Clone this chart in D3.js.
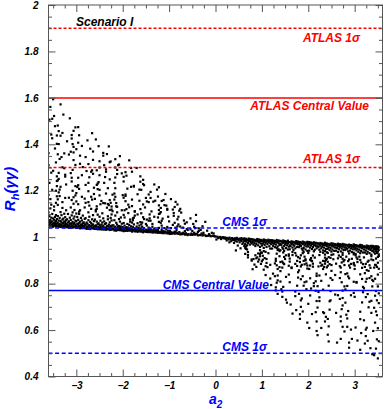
<!DOCTYPE html>
<html><head><meta charset="utf-8">
<script src="https://cdn.jsdelivr.net/npm/d3@7"></script>
<style>html,body{margin:0;padding:0;background:#fff;}svg{display:block;}</style>
</head><body>
<svg id="chart" width="384" height="409"></svg>
<script>
// ---------- data ----------
const xTicks = [-3, -2, -1, 0, 1, 2, 3];
const yTicks = [0.4, 0.6, 0.8, 1, 1.2, 1.4, 1.6, 1.8, 2];
const refNames = ["ATLAS 1\u03C3", "ATLAS Central Value", "ATLAS 1\u03C3", "CMS 1\u03C3", "CMS Central Value", "CMS 1\u03C3"];
const refValues = [1.9, 1.6, 1.3, 1.04, 0.77, 0.5];
const refExperiment = ["ATLAS", "ATLAS", "ATLAS", "CMS", "CMS", "CMS"];
const refKind = ["sigma", "central", "sigma", "sigma", "central", "sigma"];
const scenarioLabel = "Scenario I";
// scatter points, read column by column (columns of width 0.2 in a2 starting at -3.6).
// token = one digit (a2 sub-step of 0.02 inside the column) followed by R_h(γγ) in thousandths
const scatterColumns = [
"01046 51045 21047 81046 41048 91049 61050 31051 71052 11053 01055 41054 81057 51058 21060 91059 61062 31064 71063 11066 41068 81070 01072 61075 21074 91078 51081 31084 71087 11090 81095 41100 01107 61116 21124 61132 31140 81148 21164 91176 01182 81200 41204 91220 11234 91242 91262 31278 51286 01310 81322 01362 71382 91402 41426 91438 31442 71478 11506 41510 61522 21561 51594",
"31044 71043 11045 51044 91046 21047 61048 01049 81050 41052 31053 71055 11054 91057 51059 21058 61061 01063 81065 41064 71068 31070 91073 11072 51076 61080 21083 81086 01091 41095 71101 31108 91116 51126 01139 51151 01163 81169 21177 11193 21205 31217 91227 01245 11251 81261 81269 11277 71297 51301 21337 41345 01357 71361 11401 31437 51449 11457 01481 61528 31572",
"61041 21040 91042 41041 01043 71044 31045 81046 51047 11049 61050 21051 91053 41055 01054 71057 31059 81061 51060 11063 61066 21068 91071 41074 01077 71080 31084 81089 51094 11100 61107 81117 41128 71144 51160 21170 71172 91180 61200 91220 51240 51256 41276 61290 91311 71332 21356 71365 41368 71389 61401 01413 51425 51440 71458 91473 31512",
"81039 41038 01040 61039 21041 91042 51043 11044 71046 31047 81048 41050 01049 61052 21054 91056 51055 11058 71060 31062 81064 41067 01069 61072 21075 91079 51083 11087 71093 31100 01102 31110 41116 91128 21142 01154 91166 61174 01190 31208 11216 21224 21256 61267 71302 41316 41351 01379 61393 21407 31439 21474",
"11036 51035 91037 31036 71038 01039 41040 81041 21043 61044 11045 51047 91046 31049 71051 01053 41052 81055 21058 61060 11063 51066 91069 31073 71077 01082 41088 81095 31107 61122 41136 01148 31151 71162 61174 91186 31198 91213 01225 31234 41258 81273 61282 11285 71288 31315 81333 01345 81369 51381 21417 71448",
"41034 81033 21035 61034 01036 91037 51038 11039 71040 31042 41043 81044 21046 61045 01048 91050 51052 11051 71054 31057 41060 81063 21067 61071 01076 91081 51088 31097 81103 11111 11117 21122 21133 61142 91147 71156 01165 51180 51204 31207 21225 31231 41237 51267 21288 51300 51327 91351 91363 41392 11421",
"21032 61031 01033 81032 41034 71035 31036 91037 51038 11040 21041 61043 01042 81045 41047 71049 31048 91051 51054 11057 21060 61064 01068 81072 41077 71083 41090 81098 91112 61117 81119 31127 81132 51138 41143 11146 71148 61160 91183 21188 41211 01234 61249 11259 21282 21292 01310 61323 71326 31358 51391",
"91029 31028 71030 11029 51031 81032 21033 61034 01035 41037 91038 31040 71039 11042 51044 81046 21045 61048 01051 41054 91058 31062 71067 11073 61078 81085 21093 41107 91116 41131 31133 31147 11162 21174 11188 21211 11234 21257 41272 91275 41290 21300 51310 61313 21336 71349",
"51027 11026 81028 31027 61029 01030 41031 91032 21033 71035 51036 11038 81037 31040 61042 01044 41043 91047 21050 71053 51057 11061 81067 81076 21085 11096 61104 21116 41121 71129 61140 31155 11170 31178 01181 31184 51209 91217 11240 11260 41265 31280 91298 71331",
"01024 61023 31025 91024 41026 71027 11028 51029 81030 21032 61033 01034 41036 91038 31037 71040 11043 51046 81050 21055 61060 01063 91065 11073 11081 21084 31093 61098 31110 31112 91121 01134 81157 01162 61185 81205 21218 21221 91239 91262 01282 51298",
"71022 21021 51023 91022 11024 41025 81026 31027 61028 01030 71031 21033 51032 91035 31038 81041 11045 61050 01055 51057 11063 81071 61076 31078 91081 21086 91098 01103 41128 21141 81151 61154 51169 81184 01204 31224 21229 21247",
"31020 81019 11021 61020 41022 91023 21024 71025 51026 01028 31029 81031 61030 11033 41036 91040 21045 21057 91066 01071 81085 41088 91100 11111 91117 91137 31153 51157 01169 81175 01195 71205 91215 41227",
"41017 91016 21018 71017 01019 51020 81021 31022 61024 11023 41026 91028 21031 71034 51039 81044 21050 11062 21071 31080 91088 01102 11108 81118 81122 11126 71136 51138 21156 41160 61186",
"61015 11014 81016 31015 51017 01018 91019 41020 71022 21021 61024 11027 81031 21039 71041 91047 41053 61062 01068 91077 51092 51104 41119 61130 91141 71152 21164",
"21012 71011 41013 91012 01014 61015 31016 81017 51019 11022 71026 91035 51041 21046 01055 71058 91064 61072 01088 31106 11114 21122",
"51010 01009 81011 31010 61012 11013 91014 41016 71019 51027 01031 31034 81039 71045 61057 91069 31081 91096",
"11008 61007 31009 91008 41010 71011 01013 51016 71019 11022 21027 41031 21038 61047 91066",
"01005 51004 21006 81005 41007 71006 91004 31013 81016 61019 11028",
"01003 51001 21002 81000 4999 7998 3996 9995 6992 1990",
"0999 5998 2997 8996 3995 7994 1993 6991 4990 9988 2986 7983 5978",
"3997 8996 1995 6994 0993 4992 9991 2990 7988 5987 1985 8983 3981 6978 0975 9971 4964 7952 2943",
"1995 6994 3993 8992 0991 5990 9989 2988 7987 4986 1984 6983 3981 8979 0977 5975 9973 2970 7968 4965 1962 3960 2953 3950 4947 5936 2928 5923 5913 9904 9899",
"5992 0991 7990 2989 9988 4987 1986 6985 3984 8982 5981 0979 7977 2975 9973 4971 1968 6965 3962 8958 8944 9934 6930 8928 3922 8918 5913 4909 1906 7904 6895 9885 2882 4872 0862",
"2990 7989 4988 9987 1986 6985 3984 0983 8982 5981 2979 7978 4976 9974 1972 6970 3967 0964 8961 5958 2954 9951 2940 4937 0933 7931 1920 3910 5906 1903 0896 5889 9881 4875 6871 2860 4837 9822",
"6988 1987 8986 3985 0984 5983 9982 2981 7980 4978 6977 1975 8974 3972 0970 5968 9966 2963 7960 4957 6954 1951 8948 7945 9940 6929 9918 5907 5898 4887 6879 9871 7863 2843 7835 4832 7814 6804 0794 5784 5771 7756",
"3986 8985 0984 5983 1982 7981 4980 9979 2978 6976 3975 8973 0971 5969 1967 7965 4962 9959 2956 6953 3950 8947 0944 4941 3934 9926 6922 9920 4915 5906 2895 0893 3888 4884 9877 2869 0854 9839 6829 0809 3786 1776 2766 2743 6731 7718",
"7983 2982 9981 4980 0979 5978 1977 8976 3975 6974 7972 2971 9969 4967 0965 5963 1961 8958 3955 6952 0948 4945 3936 6932 3923 7921 9914 0908 8898 0895 6885 8876 2870 2867 9849 9826 0806 8791 6766 6746 1710 7686 3671",
"4981 9980 1979 6978 2977 8976 0975 5974 3973 7971 4970 9968 1966 6964 2962 8960 0957 5954 3951 7947 4944 9941 5936 4931 2922 6916 1909 7905 7900 5898 1893 8887 6883 3881 9878 2874 9865 0857 4832 2819 8809 6806 5791 8776 0756 3736 2728 2700 4680 1668 1648 9632",
"1979 6978 3977 8976 0975 5974 2973 9972 4971 7969 1968 6966 3964 8962 0960 5958 2955 9952 4949 7946 1942 6939 0932 5921 7912 3910 2903 3900 4897 5886 2878 5873 1863 9843 9833 2823 8810 6802 6789 3779 8769 2749 9725 0713 8677 4669 9637 1609 9596",
"8976 3975 0974 5973 1972 7971 4970 9969 2968 6966 8965 3963 0961 5959 1957 7955 4952 9949 2946 6943 8940 3937 6933 8925 2923 8912 9902 6898 8896 3890 8886 5881 4877 1874 7872 6863 9840 2835 4812 0789 6774 1764 2741 2725 0697 6677 7673 9657 8637 4609 0578",
"5974 0973 7972 2971 9970 4969 1968 6967 3966 8964 5963 0961 7959 2957 9955 4953 1950 6947 3944 8941 5938 0935 1932 7926 5924 2914 4911 0907 7905 1894 3884 5880 1877 0870 5855 9837 4824 6816 2791 4768 9753 4728 3724 3688 1648 2616 1580 2551",
"2972 7971 4970 9969 1968 6967 3966 8965 0964 5962 2961 7959 4957 9955 1953 6951 3948 8945 0942 5939 2936 7933 7924 3921 5915 2909 7907 9902 8896 6891 0886 9880 4875 5869 5849 4824 6806 9788 7770 2750 7738 4734 7706 6690 0674 5658 5638 7614 9594 5562 1546",
"9969 4968 1967 6966 2965 8964 0963 5962 3961 7959 9958 4956 1954 6952 2950 8948 0945 5942 3939 7936 9933 4930 9926 1916 7907 4904 3897 9889 6885 9883 4878 5869 2844 0841 3831 4823 9808 2790 0775 9760 6750 0718 3682 1666 2650 2614 6602 7562 4546 4524",
"6967 1966 8965 3964 0963 5962 2961 7960 4959 9957 6956 1954 8952 3950 0948 5946 2943 7940 4937 9934 6931 1928 1922 5916 2913 3906 6902 3893 7891 9884 0878 8868 0863 6840 8820 2807 2804 9786 9763 0743 8719 6679 6647 1611 7587 3555 6515",
"3964 8963 5962 0961 7960 2959 9958 4957 1956 6954 3953 8951 5949 0947 7945 2943 9940 4937 1934 6931 3928 8925 8918 0913 8904 5899 4894 2885 6879 1872 7868 3858 5855 1845 8832 6824 3821 9816 2808 9788 0780 4755 2742 8726 6722 5698 8674 0642 3610 2602 2574 4554 1542 7522 9496",
"0962 3961 5960 1959 4958 2957 6956 0955 3954 5952 1951 4949 2947 6945 0943 3941 5938 1935 4932 2929 6926 6919 5915 3908 0901 5890 2881 3879 4872 1869 6864 5839 2821 0811 5788 3768 6758 2748 4728 6716 1696 3680 4664 2632 5608 0596 4560 6552 3520 1492 5478"
];
const columnStart = -3.6, columnWidth = 0.2, subStep = 0.02;

// ---------- layout / style ----------
const W = 384, H = 409;
const M = {left: 48.5, right: 382.5, top: 5, bottom: 376.5};
const FONT = "'Liberation Sans', Arial, Helvetica, sans-serif";
const colors = {ATLAS: "#ff0000", CMS: "#0000ff"};
const dashes = {ATLAS: "3,2", CMS: "4,2.6"};
const labelEndX = [360, 369, 360, 267, 269, 267];
const labelDy = [14, 12, -5, -2, -2, -2];
const DOT = 2.2;

const svg = d3.select("#chart");
const x = d3.scaleLinear().domain([-3.6, 3.6]).range([M.left, M.right]);
const y = d3.scaleLinear().domain([0.4, 2]).range([M.bottom, M.top]);

// decode points
const points = [];
scatterColumns.forEach((s, i) => {
  s.trim().split(/\s+/).forEach(tok => {
    const d = +tok[0];
    const r = +tok.slice(1) / 1000;
    points.push({a2: columnStart + columnWidth * i + subStep * d, r});
  });
});

svg.append("defs").append("clipPath").attr("id", "plotclip")
  .append("rect").attr("x", M.left).attr("y", M.top)
  .attr("width", M.right - M.left).attr("height", M.bottom - M.top);

const plot = svg.append("g").attr("clip-path", "url(#plotclip)");
plot.append("g").selectAll("rect").data(points).join("rect")
  .attr("x", d => x(d.a2) - DOT / 2).attr("y", d => y(d.r) - DOT / 2)
  .attr("width", DOT).attr("height", DOT).attr("fill", "#000");

// reference lines
refValues.forEach((v, i) => {
  const exp = refExperiment[i];
  plot.append("line")
    .attr("x1", x(-3.6)).attr("x2", x(3.6))
    .attr("y1", y(v)).attr("y2", y(v))
    .attr("stroke", colors[exp]).attr("stroke-width", 1.5)
    .attr("stroke-dasharray", refKind[i] === "sigma" ? dashes[exp] : null);
  svg.append("text")
    .attr("x", labelEndX[i]).attr("y", y(v) + labelDy[i])
    .attr("text-anchor", "end")
    .attr("font-family", FONT).attr("font-size", 12)
    .attr("font-weight", "bold").attr("font-style", "italic")
    .attr("fill", colors[exp]).text(refNames[i]);
});

// axes
const axisColor = "#555";
function styleAxis(g, labels) {
  g.select(".domain").remove();
  g.selectAll(".tick line").attr("stroke", axisColor);
  g.selectAll(".tick text")
    .attr("font-family", FONT).attr("font-size", 10)
    .attr("font-weight", "bold").attr("font-style", "italic")
    .attr("fill", "#000");
  if (!labels) g.selectAll(".tick text").remove();
}
const xMinor = d3.range(-3.5, 3.51, 0.25).filter(v => Math.abs(v - Math.round(v)) > 1e-6);
const yMinor = d3.range(0.45, 2.0, 0.05).filter(v => Math.abs(v * 5 - Math.round(v * 5)) > 1e-6);
const fmtY = d => (d === 1 || d === 2) ? String(d) : d3.format(".1f")(d);

svg.append("g").attr("transform", `translate(0,${M.bottom})`)
  .call(d3.axisBottom(x).tickValues(xTicks).tickSize(-7).tickSizeOuter(0).tickPadding(5).tickFormat(d3.format("d")))
  .call(g => styleAxis(g, true));
svg.append("g").attr("transform", `translate(0,${M.bottom})`)
  .call(d3.axisBottom(x).tickValues(xMinor).tickSize(-3.5).tickSizeOuter(0).tickFormat(""))
  .call(g => styleAxis(g, false));
svg.append("g").attr("transform", `translate(0,${M.top})`)
  .call(d3.axisTop(x).tickValues(xTicks).tickSize(-7).tickSizeOuter(0).tickFormat(""))
  .call(g => styleAxis(g, false));
svg.append("g").attr("transform", `translate(0,${M.top})`)
  .call(d3.axisTop(x).tickValues(xMinor).tickSize(-3.5).tickSizeOuter(0).tickFormat(""))
  .call(g => styleAxis(g, false));
svg.append("g").attr("transform", `translate(${M.left},0)`)
  .call(d3.axisLeft(y).tickValues(yTicks).tickSize(-7).tickSizeOuter(0).tickPadding(10).tickFormat(fmtY))
  .call(g => styleAxis(g, true));
svg.append("g").attr("transform", `translate(${M.left},0)`)
  .call(d3.axisLeft(y).tickValues(yMinor).tickSize(-3.5).tickSizeOuter(0).tickFormat(""))
  .call(g => styleAxis(g, false));
svg.append("g").attr("transform", `translate(${M.right},0)`)
  .call(d3.axisRight(y).tickValues(yTicks).tickSize(-7).tickSizeOuter(0).tickFormat(""))
  .call(g => styleAxis(g, false));
svg.append("g").attr("transform", `translate(${M.right},0)`)
  .call(d3.axisRight(y).tickValues(yMinor).tickSize(-3.5).tickSizeOuter(0).tickFormat(""))
  .call(g => styleAxis(g, false));

// frame
svg.append("rect").attr("x", M.left).attr("y", M.top)
  .attr("width", M.right - M.left).attr("height", M.bottom - M.top)
  .attr("fill", "none").attr("stroke", axisColor).attr("stroke-width", 1);

// titles
svg.append("text").attr("x", 76).attr("y", 26)
  .attr("font-family", FONT).attr("font-size", 12)
  .attr("font-weight", "bold").attr("font-style", "italic")
  .attr("fill", "#000").text(scenarioLabel);

const yt = svg.append("text")
  .attr("transform", "translate(15,189) rotate(-90)")
  .attr("text-anchor", "middle")
  .attr("font-family", FONT).attr("font-size", 15)
  .attr("font-weight", "bold").attr("font-style", "italic")
  .attr("fill", "#0000ff");
yt.append("tspan").text("R");
yt.append("tspan").attr("font-size", 11).attr("dy", 4).text("h");
yt.append("tspan").attr("dy", -4).text("(\u03B3\u03B3)");

const xt = svg.append("text").attr("x", 209).attr("y", 404)
  .attr("font-family", FONT).attr("font-size", 14)
  .attr("font-weight", "bold").attr("font-style", "italic")
  .attr("fill", "#0000ff");
xt.append("tspan").text("a");
xt.append("tspan").attr("font-size", 10).attr("dy", 4).text("2");
</script>
</body></html>
